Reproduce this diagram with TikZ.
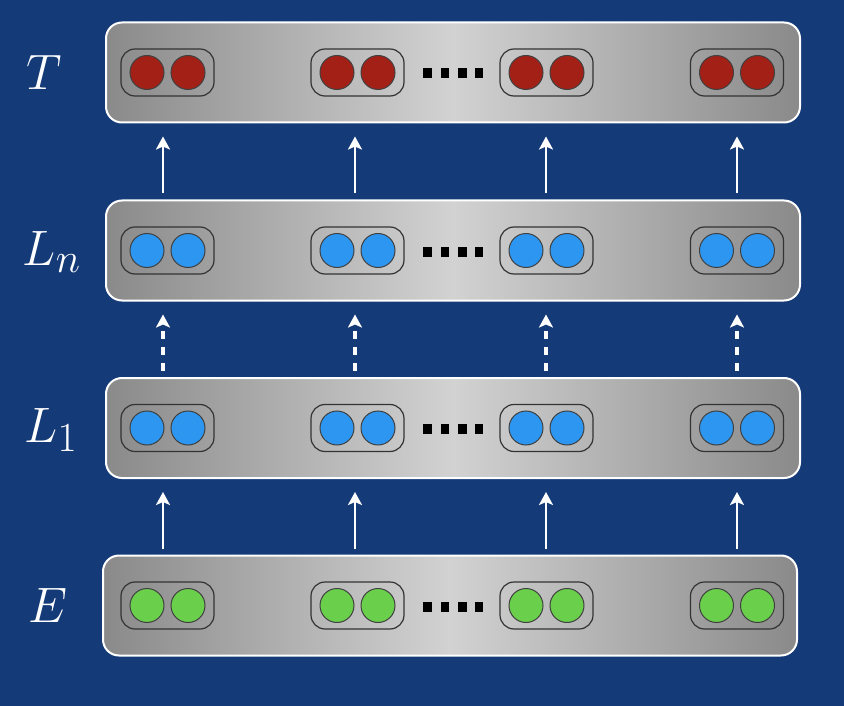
\documentclass[tikz,border=0pt]{standalone}
\usetikzlibrary{arrows.meta}
\definecolor{bgblue}{RGB}{20,58,120}
\definecolor{cred}{RGB}{163,32,22}
\definecolor{cblue}{RGB}{45,150,240}
\definecolor{cgreen}{RGB}{106,208,76}
\definecolor{gmid}{RGB}{210,210,210}
\definecolor{gedge}{RGB}{138,138,138}
\tikzset{
  layer/.style={rectangle, rounded corners=16pt, draw=white, line width=2pt,
    minimum width=694pt, minimum height=100pt, inner sep=0pt,
    left color=gedge, right color=gedge, middle color=gmid},
  pill/.style={rectangle, rounded corners=14pt, draw=black!80, line width=1.2pt,
    minimum width=93pt, minimum height=47pt, inner sep=0pt},
  ball/.style={circle, draw=black!75, line width=1pt, minimum size=34pt, inner sep=0pt},
  dotsq/.style={rectangle, fill=black, minimum width=8.5pt, minimum height=10pt, inner sep=0pt},
  lbl/.style={text=white, font=\Huge, scale=2},
  arr/.style={draw=white, line width=2.5pt, -{Stealth[length=13pt,width=14pt,inset=3pt]},
    shorten <=6pt, shorten >=13pt},
  darr/.style={arr, line width=4pt, dash pattern=on 8pt off 8pt}
}
\begin{document}
\begin{tikzpicture}[x=1pt,y=-1pt]
\fill[bgblue] (0,0) rectangle (844,706);
\useasboundingbox (0,0) rectangle (844,706);
% layers
\foreach \L/\bx/\y/\c in {T/453/72.5/cred, Ln/453/250.5/cblue, L1/453/428/cblue, E/450/605.5/cgreen}{
  \node[layer] (\L) at (\bx,\y) {};
  \foreach \k/\px in {1/167.5, 2/357.5, 3/546.5, 4/737}{
    \node[pill] (\L-p\k) at (\px,\y) {};
    \node[ball, fill=\c] (\L-p\k a) at (\px-20.5,\y) {};
    \node[ball, fill=\c] (\L-p\k b) at (\px+20.5,\y) {};
  }
  \foreach \k/\dx in {1/427.5, 2/445, 3/462.5, 4/479}{
    \node[dotsq] (\L-d\k) at (\dx,\y+1) {};
  }
}
% labels
\node[lbl] (lT) at (44,72) {$T$};
\node[lbl] (lLn) at (52,252) {$L_n$};
\node[lbl] (lL1) at (51,430) {$L_1$};
\node[lbl] (lE) at (48,605) {$E$};
% arrow columns
\foreach \i/\ax in {1/163, 2/355, 3/546, 4/737}{
  \coordinate (a\i) at (\ax,0);
  \draw[arr] (Ln.north -| a\i) -- (T.south -| a\i);
  \draw[darr] (L1.north -| a\i) -- (Ln.south -| a\i);
  \draw[arr] (E.north -| a\i) -- (L1.south -| a\i);
}
\end{tikzpicture}
\end{document}
